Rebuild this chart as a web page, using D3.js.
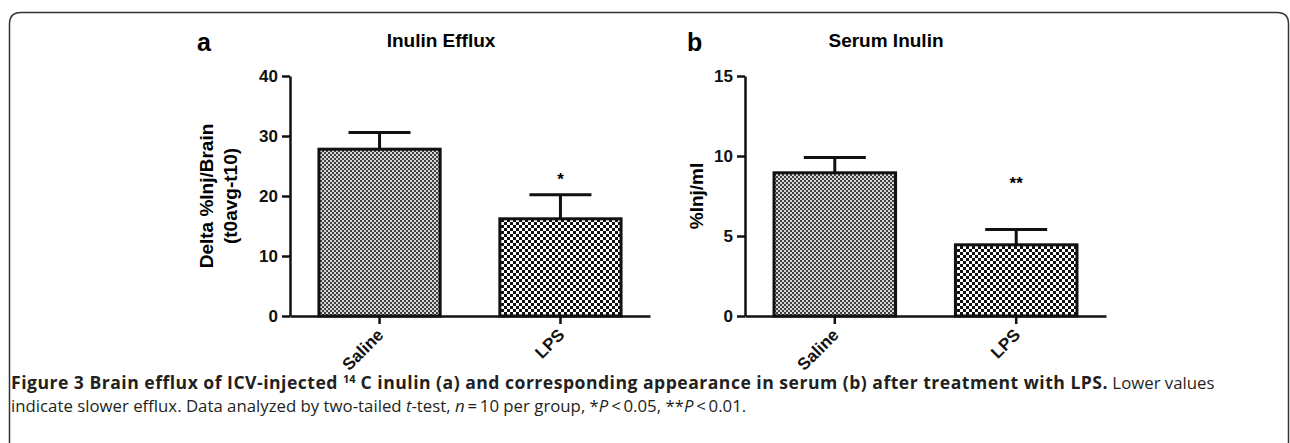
<!DOCTYPE html>
<html>
<head>
<meta charset="utf-8">
<script src="https://cdn.jsdelivr.net/npm/d3@7"></script>
<style>
  body { margin: 0; background: #fff; }
  svg { display: block; }
</style>
</head>
<body>
<svg id="fig"></svg>
<script>
// values
const groups = ["Saline", "LPS"];

const effluxMeans = [27.8, 16.2];
const effluxErr = [2.8, 4.0];
const effluxTicks = [0, 10, 20, 30, 40];
const effluxStars = ["", "*"];

const serumMeans = [8.95, 4.45];
const serumErr = [0.95, 0.95];
const serumTicks = [0, 5, 10, 15];
const serumStars = ["", "**"];

const w = 1290;
const h = 443;
const yTop = 76;
const yBottom = 316;

let svg = d3.select("#fig")
    .attr("width", w)
    .attr("height", h);

let defs = svg.append("defs");

// fine grey checker (saline)
let fine = defs.append("pattern")
    .attr("id", "fine")
    .attr("patternUnits", "userSpaceOnUse")
    .attr("width", 4)
    .attr("height", 4);
fine.append("rect").attr("width", 4).attr("height", 4).attr("fill", "#d8d8d8");
fine.append("rect").attr("width", 2).attr("height", 2).attr("fill", "#404040");
fine.append("rect").attr("x", 2).attr("y", 2).attr("width", 2).attr("height", 2).attr("fill", "#404040");

// coarse black/white checker (LPS)
let coarse = defs.append("pattern")
    .attr("id", "coarse")
    .attr("patternUnits", "userSpaceOnUse")
    .attr("width", 6)
    .attr("height", 6);
coarse.append("rect").attr("width", 6).attr("height", 6).attr("fill", "#fff");
coarse.append("rect").attr("width", 3).attr("height", 3).attr("fill", "#111");
coarse.append("rect").attr("x", 3).attr("y", 3).attr("width", 3).attr("height", 3).attr("fill", "#111");

const fills = ["url(#fine)", "url(#coarse)"];

// frame with rounded top corners
svg.append("path")
    .attr("d", "M9.5,450 L9.5,24 Q9.5,12.5 21,12.5 L1277,12.5 Q1288.5,12.5 1288.5,24 L1288.5,450")
    .attr("fill", "none")
    .attr("stroke", "#333")
    .attr("stroke-width", 1.5);

function drawPanel(p) {
    let g = svg.append("g");

    let y = d3.scaleLinear()
        .domain([0, d3.max(p.ticks)])
        .range([yBottom, yTop]);

    let x = d3.scaleBand()
        .domain(groups)
        .range([p.x0, p.x1])
        .paddingInner(0.33)
        .paddingOuter(0.16);

    // bars
    g.selectAll(".bar")
        .data(p.means)
        .enter()
        .append("rect")
        .attr("class", "bar")
        .attr("x", (d, i) => x(groups[i]))
        .attr("y", d => y(d))
        .attr("width", x.bandwidth())
        .attr("height", d => y(0) - y(d))
        .attr("fill", (d, i) => fills[i])
        .attr("stroke", "#111")
        .attr("stroke-width", 3);

    // error bars (upper only)
    let cx = i => x(groups[i]) + x.bandwidth() / 2;
    g.selectAll(".err")
        .data(p.means)
        .enter()
        .append("path")
        .attr("class", "err")
        .attr("d", (d, i) => {
            let yt = y(d + p.err[i]);
            return `M${cx(i)},${y(d)}V${yt}M${cx(i) - 31},${yt}H${cx(i) + 31}`;
        })
        .attr("fill", "none")
        .attr("stroke", "#111")
        .attr("stroke-width", 3);

    // significance stars
    g.selectAll(".star")
        .data(p.stars)
        .enter()
        .append("text")
        .attr("class", "star")
        .attr("x", (d, i) => cx(i))
        .attr("y", (d, i) => y(p.means[i] + p.err[i]) - p.starGap)
        .attr("text-anchor", "middle")
        .style("font", "bold 17px 'Liberation Sans', Arial, sans-serif")
        .text(d => d);

    // axes
    let yAxis = d3.axisLeft(y)
        .tickValues(p.ticks)
        .tickSize(8)
        .tickPadding(4)
        .tickSizeOuter(0);

    let ya = g.append("g")
        .attr("transform", `translate(${p.x0}, 0)`)
        .call(yAxis);

    let xAxis = d3.axisBottom(x)
        .tickSize(8)
        .tickSizeOuter(0);

    let xa = g.append("g")
        .attr("transform", `translate(0, ${yBottom})`)
        .call(xAxis);

    [ya, xa].forEach(a => {
        a.selectAll("path, line")
            .attr("stroke", "#111")
            .attr("stroke-width", 2.5);
        a.selectAll("text")
            .attr("fill", "#111")
            .style("font", "bold 17px 'Liberation Sans', Arial, sans-serif");
    });

    xa.selectAll("text")
        .attr("x", 0)
        .attr("y", 0)
        .attr("dy", 0)
        .attr("text-anchor", "end")
        .attr("transform", "translate(5, 20) rotate(-45)");

    // panel letter + title
    svg.append("text")
        .attr("x", p.letterX)
        .attr("y", 51)
        .style("font", "bold 25px 'Liberation Sans', Arial, sans-serif")
        .text(p.letter);

    svg.append("text")
        .attr("x", p.titleX)
        .attr("y", 47)
        .attr("text-anchor", "middle")
        .style("font", "bold 19px 'Liberation Sans', Arial, sans-serif")
        .text(p.title);

    // y label
    p.ylabel.forEach((t, i) => {
        svg.append("text")
            .attr("transform", `translate(${p.ylabelX + i * 24}, ${(yTop + yBottom) / 2}) rotate(-90)`)
            .attr("text-anchor", "middle")
            .style("font", "bold 19px 'Liberation Sans', Arial, sans-serif")
            .text(t);
    });
}

drawPanel({
    x0: 290, x1: 650,
    means: effluxMeans, err: effluxErr, ticks: effluxTicks, stars: effluxStars, starGap: 10,
    letter: "a", letterX: 197, title: "Inulin Efflux", titleX: 441,
    ylabel: ["Delta %Inj/Brain", "(t0avg-t10)"], ylabelX: 213
});

drawPanel({
    x0: 745, x1: 1106,
    means: serumMeans, err: serumErr, ticks: serumTicks, stars: serumStars, starGap: 41,
    letter: "b", letterX: 687, title: "Serum Inulin", titleX: 886,
    ylabel: ["%Inj/ml"], ylabelX: 703
});

// caption
let capFont = "'Open Sans', 'Noto Sans', sans-serif";

let line1 = svg.append("text")
    .attr("x", 11)
    .attr("y", 389)
    .attr("fill", "#231f20")
    .style("font-family", capFont)
    .style("font-size", "16.8px");

let b1 = line1.append("tspan").attr("font-weight", "bold").attr("font-size", "17.6px").text("Figure 3 Brain efflux of ICV-injected ");
let b2 = line1.append("tspan").attr("font-weight", "bold").attr("font-size", "11px").attr("dy", -6).text("14");
let b3 = line1.append("tspan").attr("font-weight", "bold").attr("font-size", "17.6px").attr("dy", 6).text(" C inulin (a) and corresponding appearance in serum (b) after treatment with LPS.");
line1.append("tspan").text(" Lower values");

// stretch the bold run a little so "Lower values" ends where it does in the figure
let boldRuns = [b1, b3];
let boldLen = boldRuns.reduce((s, t) => s + t.node().getComputedTextLength(), 0) + b2.node().getComputedTextLength();
let boldChars = boldRuns.reduce((s, t) => s + t.text().length, 0);
let spacing = Math.max(0, (1097 - boldLen) / boldChars);
boldRuns.forEach(t => t.attr("letter-spacing", spacing));

let line2 = svg.append("text")
    .attr("x", 11)
    .attr("y", 412)
    .attr("fill", "#231f20")
    .style("font-family", capFont)
    .style("font-size", "16.8px");

line2.append("tspan").text("indicate slower efflux. Data analyzed by two-tailed ");
line2.append("tspan").attr("font-style", "italic").text("t");
line2.append("tspan").text("-test, ");
line2.append("tspan").attr("font-style", "italic").text("n");
line2.append("tspan").text("\u2009=\u200910 per group, *");
line2.append("tspan").attr("font-style", "italic").text("P");
line2.append("tspan").text("\u2009<\u20090.05, **");
line2.append("tspan").attr("font-style", "italic").text("P");
line2.append("tspan").text("\u2009<\u20090.01.");
</script>
</body>
</html>
